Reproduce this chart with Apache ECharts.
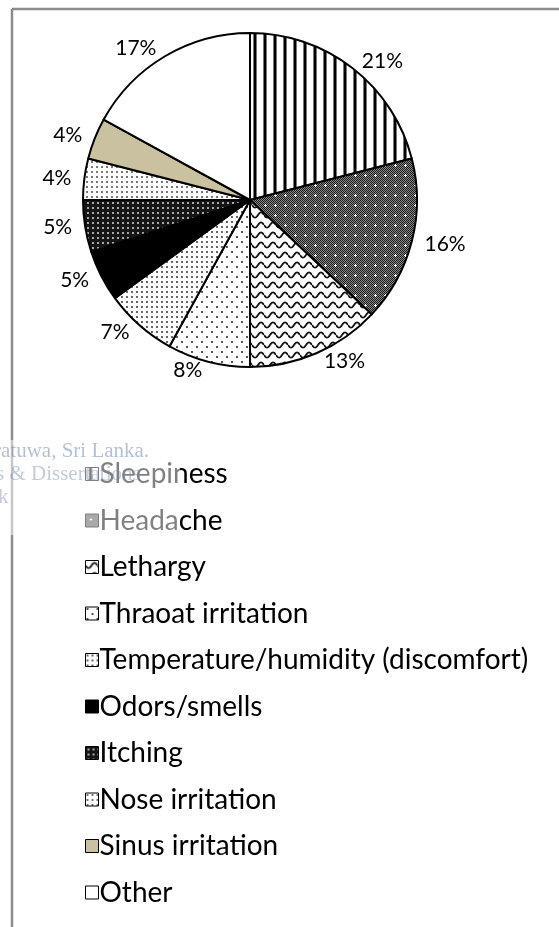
<!DOCTYPE html>
<html>
<head>
<meta charset="utf-8">
<script src="https://cdn.jsdelivr.net/npm/echarts@6/dist/echarts.min.js"></script>
<style>
html,body{margin:0;padding:0;background:#fff;}
#c{width:559px;height:927px;}
</style>
</head>
<body>
<div id="c"></div>
<script>
const categories = ['Sleepiness','Headache','Lethargy','Thraoat irritation','Temperature/humidity (discomfort)','Odors/smells','Itching','Nose irritation','Sinus irritation','Other'];
const values = [21,16,13,8,7,5,5,4,4,17];
const watermarkLines = ['ratuwa, Sri Lanka.','s & Dissertations','k'];

function tile(w,h,draw){
  const c=document.createElement('canvas'); c.width=w; c.height=h;
  const ctx=c.getContext('2d'); ctx.fillStyle='#fff'; ctx.fillRect(0,0,w,h);
  draw(ctx,w,h); return {image:c, repeat:'repeat'};
}
const patterns = [
  tile(10,10,(x)=>{ x.fillStyle='#000'; x.fillRect(4,0,2,10); x.fillStyle='#777'; x.fillRect(3,0,1,10); x.fillRect(6,0,1,10); }),
  tile(10,10,(x)=>{ for(let i=0;i<10;i++)for(let j=0;j<10;j++){x.fillStyle=((i+j)%2===0)?'#1a1a1a':'#8a8a8a';x.fillRect(i,j,1,1);} x.fillStyle='#fff'; x.fillRect(5,4,1,3); x.fillRect(4,5,3,1); }),
  tile(12,10,(x)=>{ x.strokeStyle='#111'; x.lineWidth=1.8; x.beginPath(); for(let k=0;k<=24;k++){const px=k*0.5; const py=5+2.6*Math.sin(2*Math.PI*px/12); if(k===0)x.moveTo(px,py); else x.lineTo(px,py);} x.stroke(); }),
  tile(10,10,(x)=>{ x.fillStyle='#555'; x.fillRect(1,1,2,2); x.fillRect(6,6,2,2); }),
  tile(5,5,(x)=>{ x.fillStyle='#666'; x.fillRect(1,1,2,2); }),
  '#000',
  tile(5,5,(x)=>{ x.fillStyle='#151515'; x.fillRect(0,0,5,5); x.fillStyle='#aaa'; x.fillRect(2,2,2,2); }),
  tile(5,5,(x)=>{ x.fillStyle='#777'; x.fillRect(1,1,2,2); }),
  '#c9c1a0',
  '#fff'
];

const data = categories.map((n,i)=>({name:n, value:values[i], itemStyle:{color:patterns[i]}}));

const chart = echarts.init(document.getElementById('c'), null, {renderer:'canvas'});
const FONT = 'Lato';
chart.setOption({
  animation:false,
  backgroundColor:'#fff',
  legend:{
    orient:'vertical', left:80, top:454,
    icon:'rect', itemWidth:13, itemHeight:13, itemGap:16.5,
    itemStyle:{borderColor:'#000', borderWidth:1},
    textStyle:{fontFamily:FONT, fontSize:28, color:'#000', lineHeight:30, padding:[0,0,0,-4]},
    selectedMode:false,
    data:categories
  },
  series:[{
    type:'pie',
    center:[250,200],
    radius:167,
    startAngle:90,
    clockwise:true,
    avoidLabelOverlap:false,
    itemStyle:{borderColor:'#000', borderWidth:2},
    label:{show:true, position:'outside', formatter:'{c}%', fontFamily:FONT, fontSize:21, color:'#000', distanceToLabelLine:4},
    labelLine:{show:false, length:9, length2:0},
    emphasis:{disabled:true},
    data:data
  }],
  graphic:[
    {type:'line', shape:{x1:12,y1:9,x2:559,y2:9}, style:{stroke:'#8c8c8c', lineWidth:2.5}, z:10},
    {type:'line', shape:{x1:12,y1:9,x2:12,y2:927}, style:{stroke:'#8c8c8c', lineWidth:2.5}, z:10},
    {type:'rect', shape:{x:0,y:440,width:180,height:95}, style:{fill:'rgba(255,255,255,0.5)'}, z:20},
    {type:'text', left:-6, top:441, style:{text:watermarkLines[0], font:'21px "Liberation Serif"', fill:'rgba(120,140,175,0.55)'}, z:21},
    {type:'text', left:-4, top:464, style:{text:watermarkLines[1], font:'21px "Liberation Serif"', fill:'rgba(120,140,175,0.45)'}, z:21},
    {type:'text', left:-2, top:487, style:{text:watermarkLines[2], font:'21px "Liberation Serif"', fill:'rgba(120,140,175,0.45)'}, z:21}
  ]
});
</script>
</body>
</html>
